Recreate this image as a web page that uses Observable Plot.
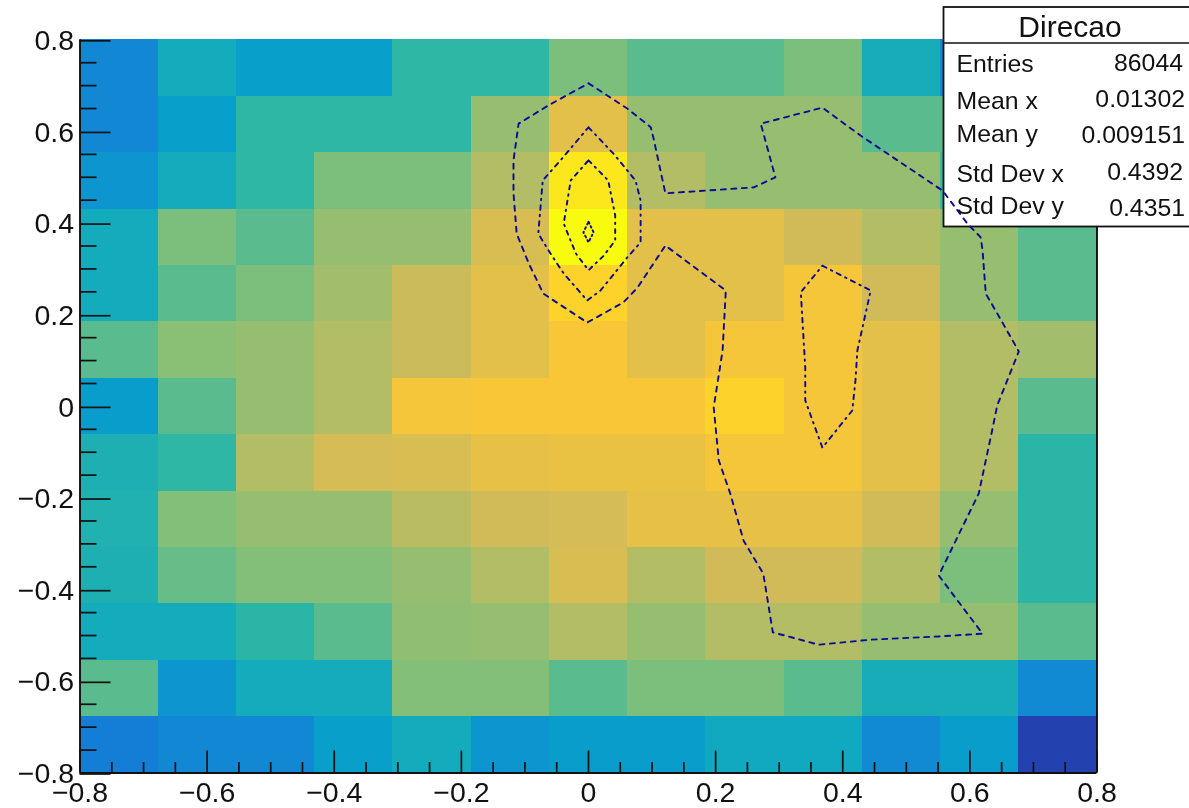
<!DOCTYPE html>
<html>
<head>
<meta charset="utf-8">
<style>
html,body{margin:0;padding:0;background:#fff;overflow:hidden}
svg{display:block;filter:blur(0.45px)}
</style>
<script src="https://cdn.jsdelivr.net/npm/d3@7"></script>
<script src="https://cdn.jsdelivr.net/npm/@observablehq/plot@0.6"></script>
</head>
<body>
<div id="chart"></div>
<script>
// 13 x 13 bin edges over [-0.8, 0.8]
const binCount = 13;
const axisMin = -0.8, axisMax = 0.8;

// Estimated cell levels, top row first, left column first
const row01 = [270,420,360,360,500,500,610,560,560,610,430,280,300];
const row02 = [270,360,500,500,500,650,800,650,650,650,560,560,440];
const row03 = [320,420,500,610,610,700,950,700,650,650,650,520,460];
const row04 = [420,610,560,650,650,770,1000,800,800,750,700,650,560];
const row05 = [420,560,610,670,740,800,900,800,800,850,750,650,560];
const row06 = [560,630,650,700,740,800,860,800,850,850,800,700,670];
const row07 = [350,560,650,700,850,860,860,860,900,850,800,700,560];
const row08 = [450,500,700,760,770,810,820,820,850,850,800,700,490];
const row09 = [460,620,650,650,710,750,760,810,810,810,750,650,490];
const row10 = [450,580,620,620,650,700,770,700,750,750,700,610,490];
const row11 = [420,420,490,560,640,650,700,650,700,700,650,650,560];
const row12 = [560,320,420,420,620,620,560,610,610,560,430,430,280];
const row13 = [240,270,270,360,420,320,350,350,410,410,280,350,60];
const rows = [row01,row02,row03,row04,row05,row06,row07,row08,row09,row10,row11,row12,row13];

// Contours
const outerX = [0,0.061,0.098,0.102,0.121,0.260,0.294,0.271,0.368,0.428,0.557,0.596,0.617,0.620,0.625,0.643,0.677,0.643,0.636,0.614,0.551,0.620,0.551,0.444,0.362,0.290,0.275,0.244,0.223,0.205,0.197,0.211,0.216,0.121,0.077,0.055,-0.002,-0.071,-0.094,-0.113,-0.118,-0.118,-0.110,-0.063,0];
const outerY = [0.705,0.650,0.609,0.587,0.465,0.478,0.500,0.617,0.652,0.591,0.471,0.399,0.369,0.340,0.246,0.203,0.120,0.002,-0.046,-0.190,-0.369,-0.496,-0.502,-0.509,-0.520,-0.493,-0.365,-0.293,-0.190,-0.118,-0.002,0.122,0.253,0.351,0.259,0.227,0.183,0.246,0.312,0.377,0.465,0.537,0.617,0.657,0.705];
const middleX = [0,0.039,0.074,0.082,0.082,0.061,0.019,-0.002,-0.039,-0.060,-0.079,-0.072,-0.044,0];
const middleY = [0.609,0.552,0.493,0.449,0.358,0.325,0.253,0.231,0.290,0.334,0.377,0.493,0.537,0.609];
const lobeX = [0.368,0.444,0.423,0.420,0.415,0.368,0.341,0.341,0.334,0.368];
const lobeY = [0.307,0.253,0.122,0.057,-0.009,-0.090,0.013,0.085,0.249,0.307];
const innerX = [0,0.031,0.042,0.042,0.024,0,-0.020,-0.039,-0.028,0];
const innerY = [0.537,0.493,0.417,0.362,0.329,0.297,0.334,0.399,0.493,0.537];
const coreX = [0,0.008,0,-0.008,0];
const coreY = [0.403,0.380,0.358,0.380,0.403];

// Axis ticks
const majorTicks = [-0.8,-0.6,-0.4,-0.2,0,0.2,0.4,0.6,0.8];
const minorTicks = [-0.75,-0.7,-0.65,-0.55,-0.5,-0.45,-0.35,-0.3,-0.25,-0.15,-0.1,-0.05,0.05,0.1,0.15,0.25,0.3,0.35,0.45,0.5,0.55,0.65,0.7,0.75];

// Stats box text
const statsTitle = "Direcao";
const statsLabels = ["Entries","Mean x","Mean y","Std Dev x","Std Dev y"];
const statsValues = ["86044","0.01302","0.009151","0.4392","0.4351"];

// Palette stops (level -> colour)
const levelStops = [0,125,250,375,500,625,750,875,1000];
const levelColors = ["#352a87","#0f5cdd","#1481d6","#06a4ca","#2eb7a4","#87bf77","#d1bb59","#fec832","#f9fb0e"];

const binWidth = (axisMax-axisMin)/binCount;
const cells = rows.flatMap((row,r)=>row.map((v,c)=>({
  x1: axisMin+c*binWidth, x2: axisMin+(c+1)*binWidth,
  y2: axisMax-r*binWidth, y1: axisMax-(r+1)*binWidth, v
})));
const asPoints = (xs,ys)=>xs.map((x,i)=>({x,y:ys[i]}));
const fmt = d=> d===0 ? "0" : (d<0?"\u2212":"")+d3.format(".1f")(Math.abs(d));
const font = "'Liberation Sans', Arial, sans-serif";
const lineColor = "#0a0a96";

const statsBox = () => {
  const g = d3.create("svg:g").attr("font-family",font).attr("fill","#111");
  g.append("rect").attr("x",943.5).attr("y",7).attr("width",250).attr("height",219.5)
    .attr("fill","#fff").attr("stroke","#111").attr("stroke-width",1.8);
  g.append("line").attr("x1",943.5).attr("x2",1189).attr("y1",43).attr("y2",43).attr("stroke","#111").attr("stroke-width",1.5);
  g.append("text").attr("x",1070).attr("y",36.5).attr("text-anchor","middle").attr("font-size",30).text(statsTitle);
  const labelY = [72,109,142,182,214];
  const valueY = [71,107,143,180,216];
  const valueR = [1183,1185,1185,1183,1185];
  statsLabels.forEach((t,i)=>g.append("text").attr("x",956.5).attr("y",labelY[i]).attr("text-anchor","start").attr("font-size",24.8).text(t));
  statsValues.forEach((t,i)=>g.append("text").attr("x",valueR[i]).attr("y",valueY[i]).attr("text-anchor","end").attr("font-size",24.8).text(t));
  return g.node();
};

const chart = Plot.plot({
  width:1189, height:808,
  marginLeft:79.5, marginRight:92.5, marginTop:39.3, marginBottom:35.5,
  style:{fontFamily:font, background:"#fff", color:"#111"},
  x:{domain:[axisMin,axisMax], label:null},
  y:{domain:[axisMin,axisMax], label:null},
  color:{type:"linear", domain:levelStops, range:levelColors, legend:false},
  marks:[
    Plot.rect(cells,{x1:"x1",x2:"x2",y1:"y1",y2:"y2",fill:"v",shapeRendering:"crispEdges"}),
    Plot.ruleX([axisMin,axisMax],{stroke:"#111",strokeWidth:1.9}),
    Plot.ruleY([axisMin],{stroke:"#111",strokeWidth:1.9}),
    Plot.axisX({ticks:minorTicks,anchor:"bottom",tickSize:-10.5,fill:"none",strokeWidth:1.7,label:null}),
    Plot.axisY({ticks:minorTicks,anchor:"left",tickSize:-17,fill:"none",strokeWidth:1.7,label:null}),
    Plot.axisX({ticks:majorTicks,anchor:"bottom",tickSize:-22,tickPadding:31,tickFormat:fmt,fontSize:28.5,strokeWidth:1.7,label:null}),
    Plot.axisY({ticks:majorTicks,anchor:"left",tickSize:-31,tickPadding:37,tickFormat:fmt,fontSize:28.5,strokeWidth:1.7,dy:1,label:null}),
    statsBox,
    Plot.line(asPoints(outerX,outerY),{x:"x",y:"y",stroke:lineColor,strokeWidth:1.9,strokeDasharray:"5 5.5"}),
    Plot.line(asPoints(middleX,middleY),{x:"x",y:"y",stroke:lineColor,strokeWidth:1.9,strokeDasharray:"4.5 5 1.5 5"}),
    Plot.line(asPoints(lobeX,lobeY),{x:"x",y:"y",stroke:lineColor,strokeWidth:1.9,strokeDasharray:"4.5 5 1.5 5"}),
    Plot.line(asPoints(innerX,innerY),{x:"x",y:"y",stroke:lineColor,strokeWidth:1.9,strokeDasharray:"4 5 1.5 5"}),
    Plot.line(asPoints(coreX,coreY),{x:"x",y:"y",stroke:lineColor,strokeWidth:1.9,strokeDasharray:"2 3 1.5 3"})
  ]
});
document.getElementById("chart").append(chart);
</script>
</body>
</html>
